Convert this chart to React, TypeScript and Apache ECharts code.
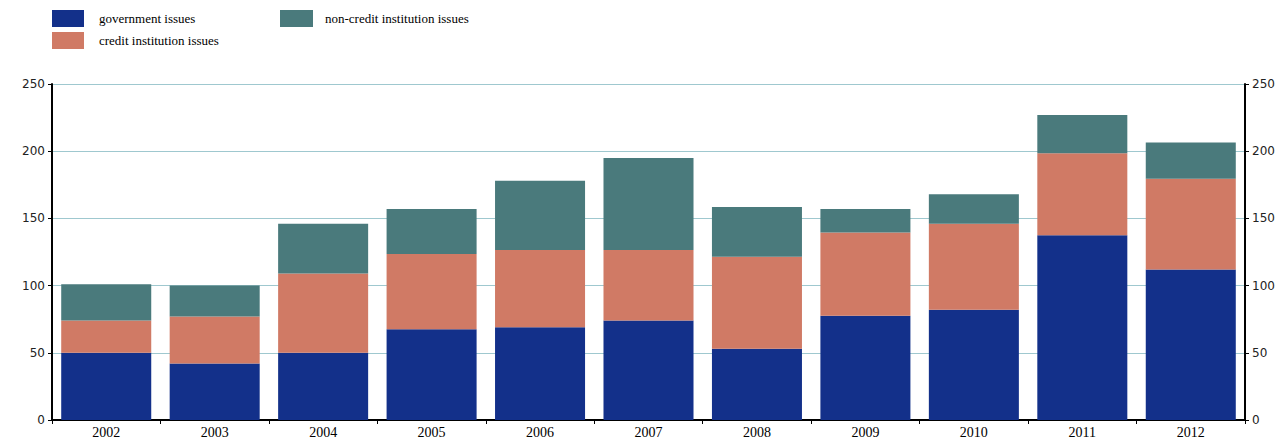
import React, { useEffect, useRef } from "react";
import * as echarts from "echarts";

const years = ["2002", "2003", "2004", "2005", "2006", "2007", "2008", "2009", "2010", "2011", "2012"];
const government = [50, 42, 50, 67.5, 69, 74, 53, 77.5, 82, 137.5, 112];
const creditInst = [24, 35, 59, 56, 57.5, 52.5, 68.5, 62, 64, 61, 67.5];
const nonCredit = [27, 23, 37, 33.5, 51.5, 68.5, 37, 17.5, 22, 28.5, 27];

const NAMES = ["government issues", "credit institution issues", "non-credit institution issues"];
const COLORS = ["#13308a", "#d07a65", "#4a7a7c"];

export default function App() {
  const ref = useRef<HTMLDivElement>(null);
  useEffect(() => {
    document.body.style.margin = "0";
    if (!ref.current) return;
    const chart = echarts.init(ref.current, null, { renderer: "svg" });
    const yAxisCommon = {
      type: "value",
      min: 0,
      max: 250,
      interval: 50,
      axisLine: { show: true, lineStyle: { color: "#000", width: 2 } },
      axisTick: { show: true, length: 4, lineStyle: { color: "#000" } },
      axisLabel: { color: "#222", fontFamily: "DejaVu Sans", fontSize: 12, margin: 7 },
    };
    const legendText = { fontFamily: "Liberation Serif", fontSize: 13, color: "#000", padding: [0, 0, 0, 10] };
    chart.setOption({
      animation: false,
      color: COLORS,
      legend: [
        {
          data: [NAMES[0], NAMES[1]],
          orient: "vertical",
          left: 52,
          top: 10,
          padding: 0,
          itemWidth: 32,
          itemHeight: 17,
          itemGap: 5,
          icon: "rect",
          textStyle: legendText,
          selectedMode: false,
        },
        {
          data: [NAMES[2]],
          orient: "vertical",
          left: 280,
          top: 10,
          padding: 0,
          itemWidth: 33,
          itemHeight: 17,
          icon: "rect",
          textStyle: { ...legendText, padding: [0, 0, 0, 7] },
          selectedMode: false,
        },
      ],
      grid: { left: 52, right: 36, top: 84, bottom: 22, containLabel: false },
      xAxis: {
        type: "category",
        data: years,
        axisLine: { lineStyle: { color: "#000", width: 2 } },
        axisTick: { show: true, length: 4, lineStyle: { color: "#000" } },
        axisLabel: { color: "#000", fontFamily: "Liberation Serif", fontSize: 14, margin: 5 },
      },
      yAxis: [
        { ...yAxisCommon, position: "left", splitLine: { show: true, lineStyle: { color: "#9fc8cf", width: 1 } } },
        { ...yAxisCommon, position: "right", splitLine: { show: false } },
      ],
      series: [
        { name: NAMES[0], type: "bar", stack: "t", data: government, barCategoryGap: "17%" },
        { name: NAMES[1], type: "bar", stack: "t", data: creditInst },
        { name: NAMES[2], type: "bar", stack: "t", data: nonCredit },
      ],
    });
    return () => chart.dispose();
  }, []);
  return <div ref={ref} style={{ width: 1281, height: 442 }} />;
}
